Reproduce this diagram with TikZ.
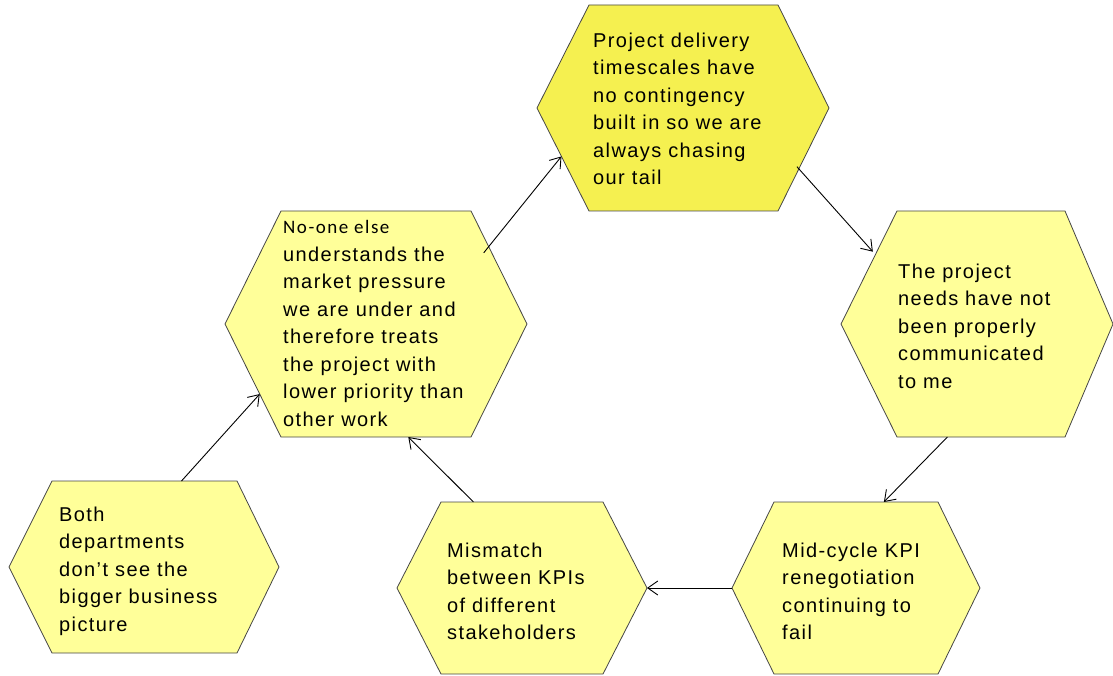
\documentclass[tikz,border=0pt]{standalone}
\usepackage{fontspec}
\setmainfont{Liberation Sans}[LetterSpace=7]
\newfontfamily\notefont{Carlito}[LetterSpace=8]
\usetikzlibrary{arrows.meta,calc}

\definecolor{hexpale}{RGB}{255,255,153}
\definecolor{hexbright}{RGB}{245,240,80}
\definecolor{hexedge}{RGB}{70,70,70}

\tikzset{
  hexcell/.style={draw=hexedge, line width=0.8pt},
  celltext/.style={anchor=north west, inner sep=0pt, align=left,
    font=\fontsize{20}{27.5}\selectfont, text=black},
  link/.style={draw=black, line width=0.9pt,
    -{Straight Barb[length=10pt,width=14pt,line width=0.9pt]}}
}

% name, left tip, inner left, inner right, right tip, top, bottom, fill
\newcommand{\hexcell}[8]{%
  \path[hexcell,fill=#8]
    (#2,{(#6+#7)/2}) coordinate (#1-l)
    -- (#3,#6) coordinate (#1-tl) -- (#4,#6) coordinate (#1-tr)
    -- (#5,{(#6+#7)/2}) coordinate (#1-r)
    -- (#4,#7) coordinate (#1-br) -- (#3,#7) coordinate (#1-bl) -- cycle;
}

\begin{document}
\begin{tikzpicture}[x=1pt,y=-1pt]
\useasboundingbox (0,0) rectangle (1113,676);

% hexagonal cells
\hexcell{h1}{537}{589}{778}{829}{5}{211}{hexbright}
\hexcell{h2}{841}{897}{1065}{1113}{211}{437}{hexpale}
\hexcell{h3}{732}{774}{938}{980}{502}{674}{hexpale}
\hexcell{h4}{397}{441}{603}{647}{502}{674}{hexpale}
\hexcell{h5}{225}{281}{471}{527}{211}{437}{hexpale}
\hexcell{h6}{9}{52}{237}{279}{481}{653}{hexpale}

% cell texts
\node[celltext] (t1) at (593,32.5) {Project delivery\\timescales have\\no contingency\\built in so we are\\always chasing\\our tail};
\node[celltext] (t2) at (898,263.5) {The project\\needs have not\\been properly\\communicated\\to me};
\node[celltext] (t3) at (782,542.5) {Mid-cycle KPI\\renegotiation\\continuing to\\fail};
\node[celltext] (t4) at (447,542.5) {Mismatch\\between KPIs\\of different\\stakeholders};
\node[celltext] (t5) at (283,220.5) {{\notefont\fontsize{19}{27.5}\selectfont No-one else}\\understands the\\market pressure\\we are under and\\therefore treats\\the project with\\lower priority than\\other work};
\node[celltext] (t6) at (59,506.5) {Both\\departments\\don’t see the\\bigger business\\picture};

% causal links
\draw[link] ($(h6-tl)!0.70!(h6-tr)$) -- ($(h5-l)!0.62!(h5-bl)$);
\draw[link] ($(h4-tl)!0.20!(h4-tr)$) -- ($(h5-bl)!0.67!(h5-br)$);
\draw[link] ($(h5-tr)!0.37!(h5-r) + (-8,0)$) -- ($(h1-l)!0.47!(h1-bl)$);
\draw[link] ($(h1-r)!0.57!(h1-br) + (-3,0)$) -- ($(h2-tl)!0.36!(h2-l) + (-4,0)$);
\draw[link] ($(h2-bl)!0.30!(h2-br)$) -- ($(h3-tl)!0.67!(h3-tr)$);
\draw[link] (h3-l) -- (h4-r);
\end{tikzpicture}
\end{document}
